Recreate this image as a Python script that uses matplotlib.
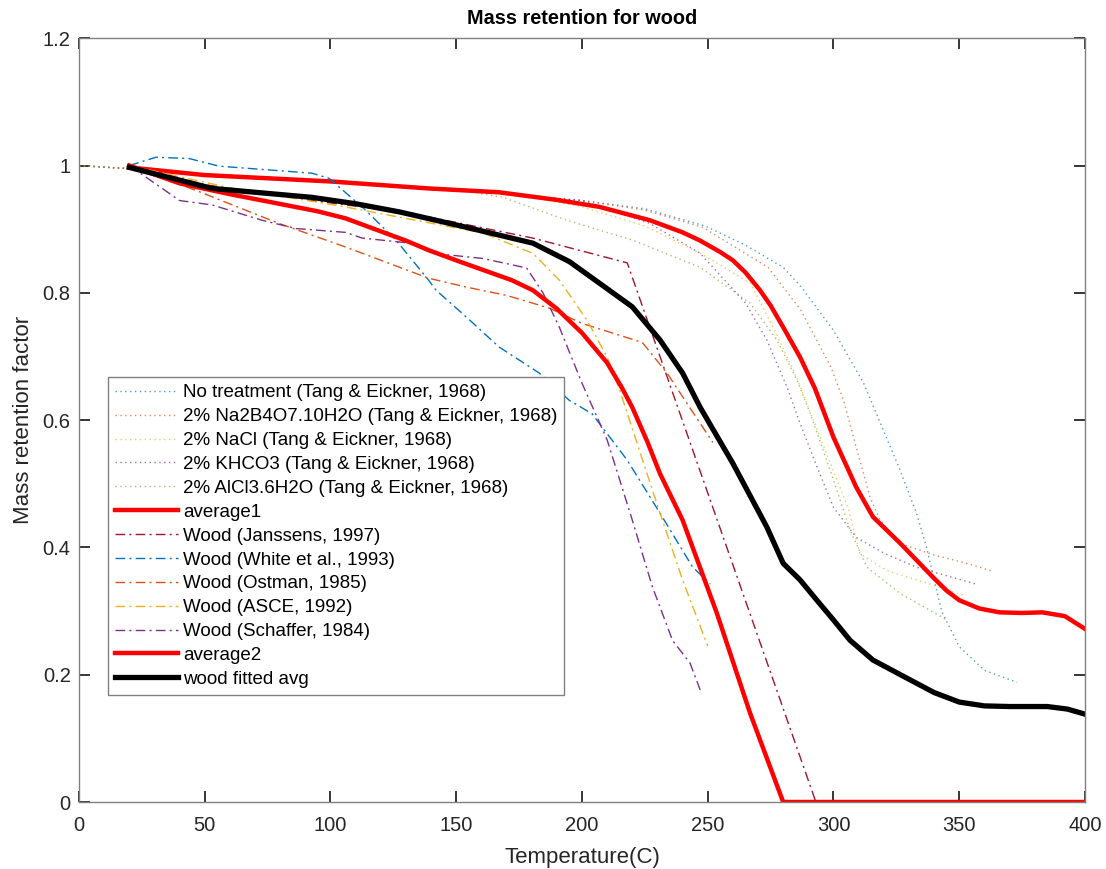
import numpy as np
import matplotlib
matplotlib.use("Agg")
import matplotlib.pyplot as plt

plt.rcParams['font.family'] = ['Liberation Sans', 'DejaVu Sans']

# Tang & Eickner (1968) series
t_none = [0, 20, 50, 100, 150, 200, 225, 249, 265, 280, 287, 300, 312, 326, 333, 337, 343, 350, 360, 373]
v_none = [1, 0.995, 0.985, 0.975, 0.962, 0.945, 0.932, 0.905, 0.875, 0.84, 0.81, 0.741, 0.658, 0.526, 0.454, 0.40, 0.30, 0.244, 0.207, 0.188]

t_na2b4o7 = [0, 20, 50, 100, 150, 200, 225, 248, 274, 287, 299, 304, 309, 314.5, 318.5, 326, 340, 353, 363]
v_na2b4o7 = [1, 0.995, 0.985, 0.975, 0.962, 0.945, 0.93, 0.903, 0.84, 0.773, 0.683, 0.631, 0.558, 0.479, 0.443, 0.407, 0.388, 0.375, 0.363]

t_nacl = [0, 20, 50, 100, 150, 180, 200, 225, 248, 267, 276, 285, 300, 306, 310.5, 321, 337, 351.5]
v_nacl = [1, 0.995, 0.985, 0.975, 0.962, 0.95, 0.935, 0.905, 0.86, 0.815, 0.746, 0.67, 0.52, 0.46, 0.39, 0.364, 0.344, 0.325]

t_khco3 = [0, 20, 50, 100, 150, 200, 227, 247, 265, 273.5, 281.5, 286.7, 293.4, 300, 309, 320, 333, 357]
v_khco3 = [1, 0.995, 0.985, 0.975, 0.962, 0.945, 0.909, 0.862, 0.784, 0.726, 0.652, 0.595, 0.527, 0.463, 0.416, 0.391, 0.369, 0.342]

t_alcl3 = [0, 20, 50, 100, 150, 168.6, 194, 220, 247, 266.8, 277.5, 285.5, 290.7, 300, 306.6, 313.3, 326.4, 345]
v_alcl3 = [1, 0.995, 0.985, 0.975, 0.962, 0.95, 0.914, 0.883, 0.84, 0.784, 0.726, 0.663, 0.611, 0.506, 0.427, 0.369, 0.328, 0.286]

t_avg1 = [20, 50, 100, 139, 167, 190, 207, 227, 240, 247, 255, 260, 265, 270.8, 275, 280, 286.7, 292.6, 300,
          309, 315.7, 326.4, 339.6, 345, 350, 358, 366, 375, 383, 392, 400]
v_avg1 = [0.997, 0.985, 0.975, 0.964, 0.958, 0.946, 0.935, 0.914, 0.895, 0.882, 0.864, 0.851, 0.832, 0.804, 0.78,
          0.746, 0.699, 0.65, 0.573, 0.495, 0.448, 0.407, 0.353, 0.332, 0.317, 0.304, 0.298, 0.297, 0.298, 0.292, 0.272]

# wood series
t_janssens = [20, 50, 92.6, 132, 180.5, 218, 293]
v_janssens = [1.0, 0.97, 0.945, 0.925, 0.886, 0.847, 0.0]

t_white = [20, 30.6, 43.8, 55.7, 92.6, 99.4, 112.6, 126, 139, 142, 154, 167, 183, 195, 204, 218, 231, 244, 251]
v_white = [1.0, 1.013, 1.011, 0.999, 0.988, 0.98, 0.935, 0.883, 0.82, 0.804, 0.762, 0.715, 0.674, 0.631, 0.61, 0.537, 0.454, 0.369, 0.343]

t_ostman = [20, 46.5, 79.5, 106, 139, 154, 170, 187, 200, 224, 233.8, 247, 252]
v_ostman = [1.0, 0.961, 0.909, 0.872, 0.823, 0.809, 0.796, 0.776, 0.752, 0.722, 0.674, 0.595, 0.565]

t_asce = [20, 60, 103, 112.6, 160.6, 180.5, 191, 202, 210, 215, 231, 240, 250]
v_asce = [1.0, 0.965, 0.937, 0.93, 0.894, 0.862, 0.82, 0.757, 0.699, 0.647, 0.454, 0.349, 0.245]

t_schaffer = [20, 40, 53, 72.8, 86.3, 106, 112.6, 132, 141, 160.6, 178, 184.5, 191, 200, 210, 220, 228, 236, 243, 247]
v_schaffer = [1.0, 0.945, 0.938, 0.914, 0.901, 0.895, 0.886, 0.878, 0.862, 0.854, 0.839, 0.8, 0.746, 0.658, 0.569, 0.443, 0.338, 0.254, 0.218, 0.176]

t_avg2 = [20, 40, 60, 79.5, 95, 106, 119, 130, 139, 150, 160.6, 172, 180.5, 190, 200, 210, 216, 220, 226, 231, 240,
          253.6, 266.8, 280, 400]
v_avg2 = [1.0, 0.972, 0.955, 0.94, 0.928, 0.917, 0.898, 0.882, 0.867, 0.851, 0.836, 0.82, 0.804, 0.775, 0.737,
          0.69, 0.65, 0.62, 0.566, 0.516, 0.443, 0.297, 0.14, 0.0, 0.0]

t_fit = [20, 53, 92.6, 110, 127.6, 154, 180.5, 195, 207, 220, 231, 240, 247, 260, 273.5, 280, 286.7, 293.4, 300,
         306.6, 315.7, 329, 340, 350, 360, 370, 385, 393, 400]
v_fit = [0.997, 0.964, 0.95, 0.94, 0.927, 0.903, 0.878, 0.849, 0.815, 0.778, 0.726, 0.674, 0.62, 0.532, 0.432,
         0.375, 0.349, 0.317, 0.286, 0.254, 0.223, 0.195, 0.172, 0.157, 0.151, 0.15, 0.15, 0.146, 0.138]

c_blue = (0, 0.447, 0.741)
c_orange = (0.85, 0.325, 0.098)
c_yellow = (0.929, 0.694, 0.125)
c_purple = (0.494, 0.184, 0.556)
c_green = (0.466, 0.674, 0.188)
c_darkred = (0.635, 0.078, 0.184)
c_text = (0.15, 0.15, 0.15)

fig = plt.figure(figsize=(11.06, 8.69), dpi=100)
ax = fig.add_axes([0.0714, 0.0771, 0.9096, 0.8789])

dot = (0, (1, 2.5))
dashdot = (0, (7, 3, 1.5, 3))

ax.plot(t_none, v_none, linestyle=dot, color=c_blue, lw=1, alpha=0.7, label='No treatment (Tang & Eickner, 1968)')
ax.plot(t_na2b4o7, v_na2b4o7, linestyle=dot, color=c_orange, lw=1, alpha=0.7, label='2% Na2B4O7.10H2O (Tang & Eickner, 1968)')
ax.plot(t_nacl, v_nacl, linestyle=dot, color=c_yellow, lw=1, alpha=0.7, label='2% NaCl (Tang & Eickner, 1968)')
ax.plot(t_khco3, v_khco3, linestyle=dot, color=c_purple, lw=1, alpha=0.7, label='2% KHCO3 (Tang & Eickner, 1968)')
ax.plot(t_alcl3, v_alcl3, linestyle=dot, color=c_green, lw=1, alpha=0.7, label='2% AlCl3.6H2O (Tang & Eickner, 1968)')
ax.plot(t_avg1, v_avg1, color='red', lw=3.2, label='average1')
ax.plot(t_janssens, v_janssens, linestyle=dashdot, color=c_darkred, lw=1, label='Wood (Janssens, 1997)')
ax.plot(t_white, v_white, linestyle=dashdot, color=c_blue, lw=1, label='Wood (White et al., 1993)')
ax.plot(t_ostman, v_ostman, linestyle=dashdot, color=c_orange, lw=1, label='Wood (Ostman, 1985)')
ax.plot(t_asce, v_asce, linestyle=dashdot, color=c_yellow, lw=1, label='Wood (ASCE, 1992)')
ax.plot(t_schaffer, v_schaffer, linestyle=dashdot, color=c_purple, lw=1, label='Wood (Schaffer, 1984)')
ax.plot(t_avg2, v_avg2, color='red', lw=3.2, label='average2')
ax.plot(t_fit, v_fit, color='black', lw=3.8, label='wood fitted avg')

ax.set_xlim(0, 400)
ax.set_ylim(0, 1.2)
ax.set_xticks(np.arange(0, 401, 50))
ax.set_yticks([0, 0.2, 0.4, 0.6, 0.8, 1, 1.2])
ax.set_yticklabels(['0', '0.2', '0.4', '0.6', '0.8', '1', '1.2'])
ax.tick_params(direction='in', top=True, right=True, length=8, width=1.3,
               labelsize=14.5, colors=c_text)
ax.tick_params(axis='x', pad=10)
ax.tick_params(axis='y', pad=6)
for s in ax.spines.values():
    s.set_color((0.5, 0.5, 0.5))
    s.set_linewidth(1)

ax.set_xlabel('Temperature(C)', fontsize=16, color=c_text, labelpad=9)
ax.set_ylabel('Mass retention factor', fontsize=16, color=c_text, labelpad=6)
ax.set_title('Mass retention for wood', fontsize=14.3, fontweight='bold', pad=10)

leg = ax.legend(loc='upper left', bbox_to_anchor=(0.029, 0.556), borderaxespad=0,
                fontsize=13.5, handlelength=3.36, labelspacing=0.36, handletextpad=0.27,
                fancybox=False, framealpha=1, edgecolor=(0.5, 0.5, 0.5), borderpad=0.37)
leg.get_frame().set_linewidth(1)
for txt in leg.get_texts():
    txt.set_color('black')

fig.savefig('out.png', dpi=100)
